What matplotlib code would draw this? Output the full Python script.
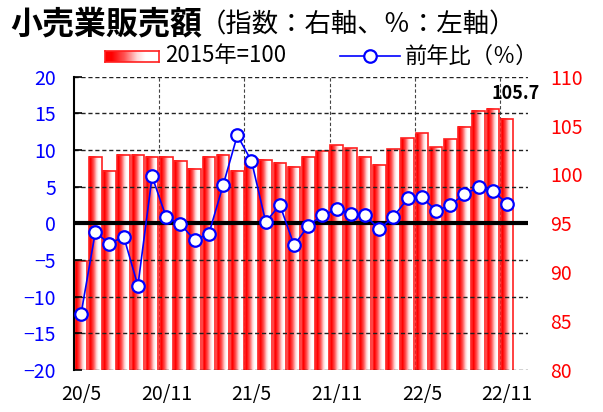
import matplotlib
matplotlib.use("Agg")
import matplotlib.pyplot as plt
import numpy as np
from matplotlib.colors import LinearSegmentedColormap
from matplotlib.lines import Line2D

plt.rcParams['font.family'] = ['Noto Sans CJK JP', 'DejaVu Sans']

# Monthly data, 2020/5 .. 2022/11
index_values = [91.2, 101.8, 100.4, 102.0, 102.0, 101.8, 101.8, 101.4, 100.6, 101.8,
                102.0, 100.4, 101.6, 101.5, 101.2, 100.8, 101.8, 102.4, 103.0, 102.7,
                101.8, 101.0, 102.6, 103.7, 104.2, 102.8, 103.6, 104.9, 106.5, 106.7,
                105.7]
yoy_values = [-12.3, -1.2, -2.8, -1.8, -8.5, 6.4, 0.8, -0.1, -2.3, -1.4,
              5.2, 12.0, 8.5, 0.2, 2.5, -3.0, -0.3, 1.1, 1.9, 1.3,
              1.1, -0.8, 0.9, 3.4, 3.6, 1.7, 2.5, 4.0, 4.9, 4.4,
              2.7]
x_labels = ['20/5', '20/11', '21/5', '21/11', '22/5', '22/11']
title = '小売業販売額'
subtitle = '（指数：右軸、％：左軸）'
bar_label = '2015年=100'
line_label = '前年比（％）'

RED = '#ff0000'
BLUE = '#0000ff'
W, H = 603, 412

fig = plt.figure(figsize=(W / 100, H / 100), dpi=100)
ax = fig.add_axes([74 / W, 1 - 370 / H, 454 / W, 293.3 / H])
ax2 = ax.twinx()

# red -> white horizontal gradient used for the bars
grad_cmap = LinearSegmentedColormap.from_list(
    'redwhite', [(0, '#ff0000'), (0.12, '#ff0000'), (0.35, '#ff5050'),
                 (0.6, '#ffd8d8'), (0.75, '#ffffff'), (1, '#ffffff')])
grad = np.linspace(0, 1, 64).reshape(1, -1)

x = np.arange(len(index_values))
bw = 0.9

# vertical gridlines behind the bars
for i in range(6, len(x), 6):
    ax2.axvline(i - 0.5, color='#444444', lw=0.8, ls=(0, (3, 2)), zorder=0)

for xi, v in zip(x, index_values):
    ax2.imshow(grad, extent=(xi - bw / 2, xi + bw / 2, 80, v), cmap=grad_cmap,
               aspect='auto', interpolation='bilinear', zorder=1)
ax2.bar(x, index_values, width=bw, facecolor='none', edgecolor='#ff2020', lw=1.2, zorder=2)

ax2.set_ylim(80, 110)
ax2.set_yticks(np.arange(80, 111, 5))
ax2.tick_params(axis='y', length=0, pad=16, labelsize=14, labelcolor=RED)

# line on the left axis, drawn above the bars
ax.set_zorder(ax2.get_zorder() + 1)
ax.patch.set_visible(False)
ax.axhline(0, color='black', lw=3, zorder=3)
ax.plot(x, yoy_values, color=BLUE, lw=1.2, marker='o', markersize=9,
        markerfacecolor='white', markeredgecolor=BLUE, markeredgewidth=1.6, zorder=4)

ax.set_ylim(-20, 20)
ax.set_yticks(np.arange(-20, 21, 5))
ax.yaxis.grid(True, color='#222222', lw=1.0, ls=(0, (3, 2)))
ax.tick_params(axis='y', direction='in', length=6, width=1.2, pad=13,
               labelsize=14, labelcolor=BLUE)
ax.set_xlim(-0.5, -0.5 + 454 / 14.2)
ax.set_xticks(x[::6])
ax.set_xticklabels(x_labels)
ax.tick_params(axis='x', length=0, pad=10, labelsize=14)

for a in (ax, ax2):
    for side in ('top', 'right', 'bottom'):
        a.spines[side].set_visible(False)
ax2.spines['left'].set_visible(False)
ax.spines['left'].set_linewidth(1.5)

# last value label
ax2.annotate(f'{index_values[-1]}', (x[-1], index_values[-1]), xytext=(9, 25),
             textcoords='offset pixels', ha='center', va='center',
             fontsize=13, fontweight='bold')

# titles
fig.text(10 / W, 1 - 24 / H, title, fontsize=23, fontweight='bold', va='center')
fig.text(200 / W, 1 - 25 / H, subtitle, fontsize=19, va='center')

# legend drawn by hand
lax = fig.add_axes([105 / W, 1 - 62 / H, 54 / W, 11 / H])
lax.imshow(grad, cmap=grad_cmap, aspect='auto', extent=(0, 1, 0, 1))
lax.set_xticks([])
lax.set_yticks([])
for s in lax.spines.values():
    s.set_color('#ff2020')
    s.set_linewidth(1.2)
fig.text(165 / W, 1 - 56 / H, bar_label, fontsize=16, va='center')
fig.add_artist(Line2D([340 / W, 370 / W, 400 / W], [1 - 56 / H] * 3, transform=fig.transFigure,
                      color=BLUE, lw=1.2, marker='o', markevery=[1], markersize=9,
                      markerfacecolor='white', markeredgecolor=BLUE, markeredgewidth=1.6))
fig.text(405 / W, 1 - 56 / H, line_label, fontsize=16, va='center')

fig.savefig('out.png', dpi=100)
